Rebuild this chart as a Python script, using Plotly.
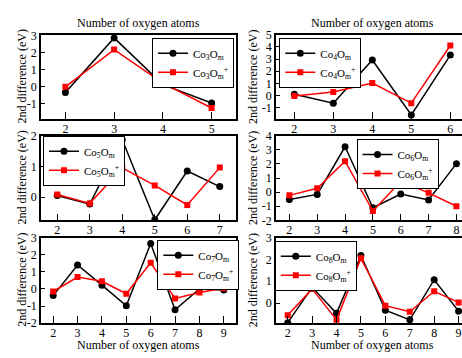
import plotly.graph_objects as go

# ---- data ----
m3 = [2, 3, 4, 5]
co3 = [-0.36, 2.87, 0.11, -0.98]
co3p = [-0.02, 2.18, 0.20, -1.27]

m4 = [2, 3, 4, 5, 6]
co4 = [0.10, -0.63, 2.93, -1.61, 3.33]
co4p = [-0.05, 0.29, 1.03, -0.63, 4.12]

m5 = [2, 3, 4, 5, 6, 7]
co5 = [0.05, -0.23, 1.87, -0.74, 0.85, 0.34]
co5p = [0.08, -0.21, 0.95, 0.38, -0.26, 0.96]

m6 = [2, 3, 4, 5, 6, 7, 8]
co6 = [-0.52, -0.16, 3.22, -1.11, -0.14, -0.55, 2.02]
co6p = [-0.23, 0.27, 2.20, -1.34, 0.77, -0.05, -1.00]

m7 = [2, 3, 4, 5, 6, 7, 8, 9]
co7 = [-0.39, 1.40, 0.22, -0.99, 2.66, -1.22, 0.00, -0.07]
co7p = [-0.15, 0.69, 0.45, -0.28, 1.53, -0.56, -0.21, 0.04]

m8 = [2, 3, 4, 5, 6, 7, 8, 9]
co8 = [-0.90, 0.72, -0.47, 2.18, -0.33, -0.77, 1.07, -0.37]
co8p = [-0.56, 0.65, -0.77, 2.05, -0.12, -0.40, 0.54, 0.03]

panels = [
    ("3", m3, co3, co3p),
    ("4", m4, co4, co4p),
    ("5", m5, co5, co5p),
    ("6", m6, co6, co6p),
    ("7", m7, co7, co7p),
    ("8", m8, co8, co8p),
]

xlabel = "Number of oxygen atoms"
ylabel = "2nd difference (eV)"

W, H = 462, 358
FONT = "Liberation Serif, Times New Roman, serif"

def px(x):
    return x / W

def py(y):
    return 1 - y / H

# layout geometry (pixels)
xdom = {0: (41, 236), 1: (276, 462)}
ydom = {0: (29, 116.7), 1: (134, 222), 2: (240, 329)}
xranges = [[1.5, 5.5], [1.53, 6.30], [1.5, 7.5], [1.52, 8.2], [1.5, 9.5], [1.52, 9.14]]
yranges = [[-1.93, 3.05], [-1.95, 5.0], [-0.76, 2.0], [-2.0, 4.0], [-2.0, 3.0], [-0.92, 3.0]]
yticks = [[-1, 0, 1, 2, 3], [-1, 0, 1, 2, 3, 4, 5], [0, 1, 2], [-2, -1, 0, 1, 2, 3, 4],
          [-2, -1, 0, 1, 2, 3], [0, 1, 2, 3]]
# legend anchor: (x, y_top, xanchor)
legpos = [(193, 32, "center"), (320.3, 32, "center"), (43, 134, "left"),
          (397.5, 137.3, "center"), (198.3, 242.3, "center"), (315.8, 243.3, "center")]

fig = go.Figure()
layout = dict(
    width=W, height=H,
    margin=dict(l=0, r=0, t=0, b=0),
    plot_bgcolor="white", paper_bgcolor="white",
    font=dict(family=FONT, size=12, color="black"),
    showlegend=True,
)
annotations = []

for i, (n, xs, b, r) in enumerate(panels):
    k = i + 1
    row, col = i // 2, i % 2
    xa = "x" if k == 1 else f"x{k}"
    ya = "y" if k == 1 else f"y{k}"
    lg = "legend" if k == 1 else f"legend{k}"
    fig.add_trace(go.Scatter(
        x=xs, y=b, xaxis=xa, yaxis=ya, legend=lg, mode="lines+markers",
        name=f"Co<sub>{n}</sub>O<sub>m</sub>",
        line=dict(color="black", width=1.5),
        marker=dict(symbol="circle", size=7, color="black"),
    ))
    fig.add_trace(go.Scatter(
        x=xs, y=r, xaxis=xa, yaxis=ya, legend=lg, mode="lines+markers",
        name=f"Co<sub>{n}</sub>O<sub>m</sub><sup>+</sup>",
        line=dict(color="red", width=1.5),
        marker=dict(symbol="square", size=6, color="red"),
    ))
    x0, x1 = xdom[col]
    y0, y1 = ydom[row]
    xkey = "xaxis" if k == 1 else f"xaxis{k}"
    ykey = "yaxis" if k == 1 else f"yaxis{k}"
    layout[xkey] = dict(
        domain=[px(x0), px(x1)], anchor=ya, range=xranges[i],
        tickmode="array", tickvals=xs, ticktext=[str(v) for v in xs],
        ticks="inside", ticklen=7, tickwidth=1, tickcolor="black",
        showline=True, linecolor="black", linewidth=1.5, mirror=True,
        showgrid=False, zeroline=False, tickfont=dict(size=12),
        ticklabelstandoff=-2,
    )
    layout[ykey] = dict(
        domain=[py(y1), py(y0)], anchor=xa, range=yranges[i],
        tickmode="array", tickvals=yticks[i], ticktext=[str(v) for v in yticks[i]],
        ticks="inside", ticklen=4, tickwidth=1, tickcolor="black",
        showline=True, linecolor="black", linewidth=1.5,
        mirror=(col == 0),
        showgrid=False, zeroline=False, tickfont=dict(size=12),
    )
    # y-axis title
    annotations.append(dict(
        text=ylabel, x=px(22.5 if col == 0 else 253), y=py((y0 + y1) / 2),
        xref="paper", yref="paper", xanchor="center", yanchor="middle",
        textangle=-90, showarrow=False, font=dict(family=FONT, size=12),
    ))
    # x-axis title below bottom row
    if row == 2:
        annotations.append(dict(
            text=xlabel, x=px(138.5 if col == 0 else 372), y=py(352),
            xref="paper", yref="paper", xanchor="center", yanchor="middle",
            showarrow=False, font=dict(family=FONT, size=12),
        ))
    lx, ly, anc = legpos[i]
    layout[lg] = dict(
        x=px(lx), y=py(ly), xanchor=anc, yanchor="top",
        bordercolor="black", borderwidth=1, bgcolor="white",
        font=dict(family=FONT, size=11), itemwidth=30,
        tracegroupgap=0,
    )

for col in (0, 1):
    cx = 138.5 if col == 0 else 372
    annotations.append(dict(
        text=xlabel, x=px(cx), y=py(17), xref="paper", yref="paper",
        xanchor="center", yanchor="middle", showarrow=False,
        font=dict(family=FONT, size=12),
    ))

layout["annotations"] = annotations
fig.update_layout(**layout)
fig.write_html("out.html", config={"displayModeBar": False},
               post_script="document.body.style.margin='0';")
